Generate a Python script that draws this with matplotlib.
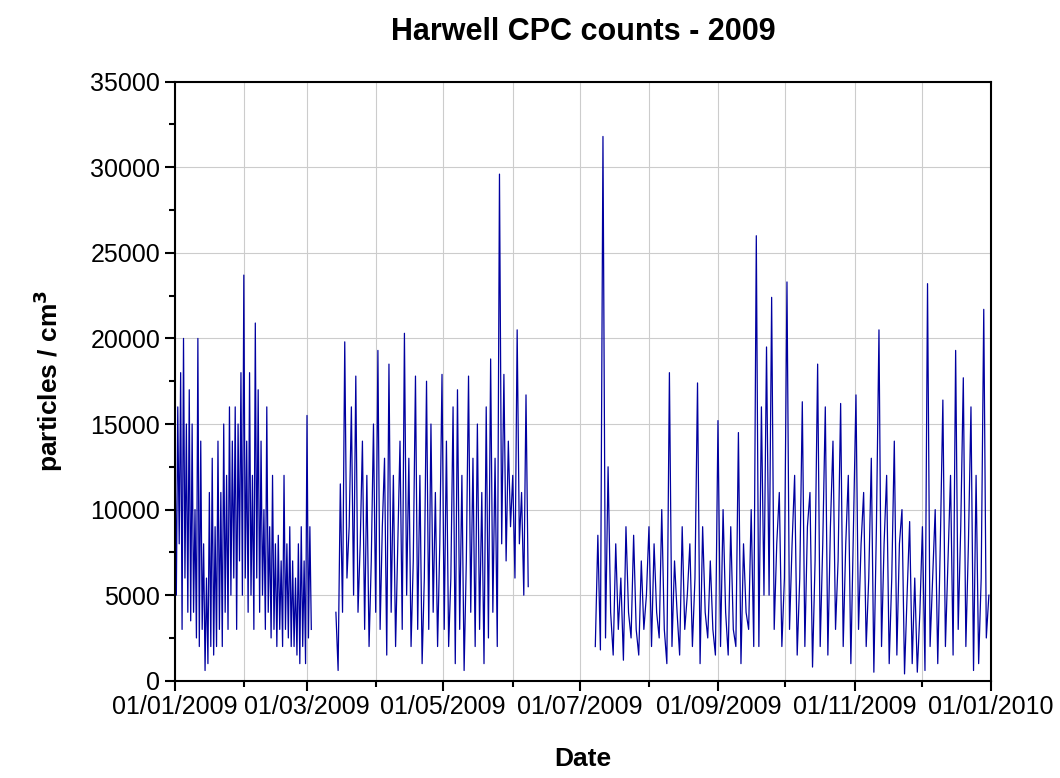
import numpy as np
import pandas as pd
import matplotlib
matplotlib.use('Agg')
import matplotlib.pyplot as plt
import matplotlib.dates as mdates

plt.rcParams['font.family'] = ['Liberation Sans', 'DejaVu Sans']

# particle counts, in thousands per cm^3, one segment per logging period
seg1_start, seg1_end = '2009-01-01', '2009-03-03'
seg1 = [14,5,16,8,18,3,20,6,15,4,17,3.5,15,4,10,2.5,20,2,14,3,8,0.6,6,1,11,2,13,1.5,9,2,
        14,3,11,2,15,4,12,3,16,5,14,6,16,3,15,7,18,5,23.7,6,14,4,18,5,12,3,20.9,6,17,4,
        14,5,10,3,16,4,9,2.5,12,3,8,2,8.5,3,7,2,12,3,8,2.5,9,2,7,2,6,1.5,8,1,9,2,7,1,15.5,2.5,9,3]
seg2_start, seg2_end = '2009-03-14', '2009-06-08'
seg2 = [4,0.6,11.5,4,19.8,6,9,16,5,17.8,4,8,14,3,12,2,7,15,4,19.3,3,9,13,1.5,18.5,4,12,2,8,14,3,
        20.3,5,13,2,7,17.8,3,12,1,6,17.5,3,15,4,11,2,8,17.9,3,14,2,6,16,1,17,3,12,0.6,7,17.8,4,
        13,2,15,3,11,1,16,2.5,18.8,4,13,2,29.6,8,17.9,7,14,9,12,6,20.5,8,11,5,16.7,5.5]
seg3_start, seg3_end = '2009-07-08', '2009-12-31'
seg3 = [2,8.5,1.8,31.8,2.5,12.5,4,1.5,8,3,6,1.2,9,4,2.5,8.5,3,1.5,7,3,5,9,2,8,4,2.5,10,3,1,
        18,2,7,4,1.5,9,3,5,8,2,6,17.4,1,9,4,2.5,7,3,1.5,15.2,2,10,4,1.5,9,3,2,14.5,1,8,4,3,10,2,
        26,2,16,5,19.5,5,22.4,3,8,11,2,6,23.3,3,8,12,1.5,6,16.3,2,9,11,0.8,7,
        18.5,2,8,16,1.5,9,14,3,7,16.2,2,8,12,1,9,16.7,3,8,11,2,6,13,0.5,9,
        20.5,2,8,12,1,6,14,1.5,8,10,0.4,5,9.3,1,6,0.5,4,9,0.6,
        23.2,2,6,10,1,8,16.4,2,7,12,1.5,19.3,3,9,17.7,2,8,16,0.6,12,1,6,21.7,2.5,5]

segments = [(seg1_start, seg1_end, seg1), (seg2_start, seg2_end, seg2), (seg3_start, seg3_end, seg3)]

fig = plt.figure(figsize=(10.6, 7.78), dpi=100)
ax = fig.add_axes([0.165, 0.125, 0.77, 0.77])

for start, end, vals in segments:
    t = pd.date_range(start, end, periods=len(vals))
    ax.plot(t, np.array(vals) * 1000, color='#0000A0', lw=0.9)

ax.set_xlim(pd.Timestamp('2009-01-01'), pd.Timestamp('2010-01-01'))
ax.set_ylim(0, 35000)
ax.set_yticks(np.arange(0, 35001, 5000))
ax.set_yticks(np.arange(0, 35001, 2500), minor=True)
ax.xaxis.set_major_locator(mdates.MonthLocator(bymonth=[1, 3, 5, 7, 9, 11]))
ax.xaxis.set_minor_locator(mdates.MonthLocator())
ax.xaxis.set_major_formatter(mdates.DateFormatter('%d/%m/%Y'))
ax.grid(which='major', axis='y', color='#cccccc', lw=0.8)
ax.grid(which='both', axis='x', color='#cccccc', lw=0.8)
ax.set_axisbelow(True)
for s in ax.spines.values():
    s.set_linewidth(1.5)
ax.tick_params(which='major', length=7, width=1.5, labelsize=18, direction='out')
ax.tick_params(which='minor', length=4, width=1.5, direction='out')

ax.set_title('Harwell CPC counts - 2009', fontsize=22, fontweight='bold', pad=30)
ax.set_xlabel('Date', fontsize=19, fontweight='bold', labelpad=20)
ax.set_ylabel('particles / cm$^\\mathbf{3}$', fontsize=19, fontweight='bold', labelpad=18)

fig.savefig('out.png', dpi=100)
